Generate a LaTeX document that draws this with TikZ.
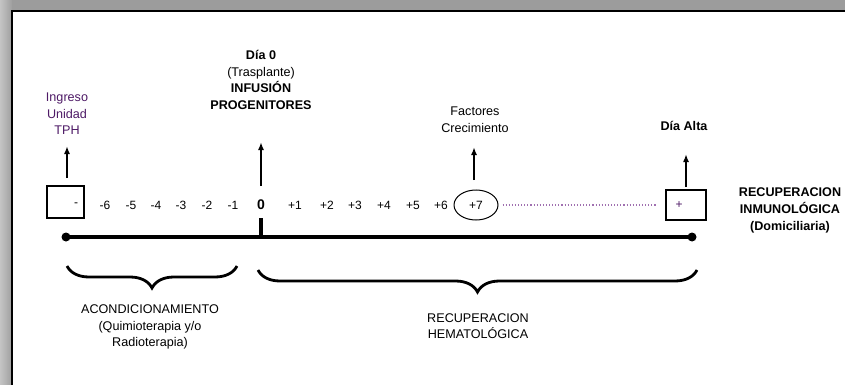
\documentclass[tikz,border=0pt]{standalone}
\usepackage{fontspec}
\setmainfont{Liberation Sans}
\usetikzlibrary{arrows.meta,decorations.pathreplacing,shapes.geometric}
\definecolor{shadowgray}{HTML}{9C9C9C}
\definecolor{shadowlight}{HTML}{C4C4C4}
\definecolor{tphpurple}{HTML}{4E1A66}
\definecolor{dotpurple}{HTML}{A070B0}

\begin{document}
\begin{tikzpicture}[x=1pt,y=-1pt,
  lbl/.style={font=\fontsize{12.6}{16.5}\selectfont, align=center, inner sep=0},
  num/.style={font=\fontsize{12}{13}\selectfont, inner sep=0},
  arr/.style={-{Latex[length=8pt,width=6pt]}, line width=1.8pt},
  dayline/.style={line width=3.4pt},
  enddot/.style={circle, fill=black, inner sep=0, minimum size=9pt},
  daybox/.style={draw, line width=1.1pt, inner sep=0},
  phase/.style={decorate, decoration={brace, mirror, amplitude=22pt}, line width=2.8pt}
]
\useasboundingbox (0,0) rectangle (845,385);

% window frame with drop shadow
\fill[left color=shadowlight, right color=shadowgray] (0,0) rectangle (13,385);
\fill[shadowgray] (12,0) rectangle (845,12);
\fill[white, draw=black, line width=2pt] (12,11) rectangle (870,410);

% timeline
\node[enddot] (tstart) at (66,237) {};
\node[enddot] (tend) at (692,237) {};
\draw[dayline] (tstart.center) -- (tend.center);
\coordinate (t0) at (261,237);
\coordinate (t0top) at (261,218);
\draw[dayline] (t0) -- (t0top);

% day boxes and numbers
\node[daybox, minimum width=37pt, minimum height=32pt] (boxL) at (65.5,202) {};
\node[num] (minus) at (76,205) {-};
\foreach \v/\x in {6/105, 5/131, 4/156, 3/181, 2/207, 1/233}
  \node[num] (m\v) at (\x,205) {-\v};
\node[num, font=\fontsize{14}{15}\selectfont\bfseries] (zero) at (261,205) {0};
\foreach \v/\x in {1/295, 2/327, 3/355, 4/384, 5/413, 6/441}
  \node[num] (p\v) at (\x,205) {+\v};
\node[num, draw, ellipse, line width=1pt, minimum width=44pt, minimum height=30pt] (p7) at (476,205) {+7};
\node[daybox, minimum width=40pt, minimum height=30pt] (boxR) at (686,205) {};
\node[num, text=tphpurple] (plus) at (679,205) {+};
\draw[dotpurple, dotted, line width=1.1pt, shorten <=4pt, shorten >=9pt] (p7.east) -- (boxR.west);

% event labels
\node[lbl, text=tphpurple] (ingreso) at (67,114) {Ingreso\\Unidad\\TPH};
\node[lbl] (dia0) at (261,80) {\textbf{Día 0}\\(Trasplante)\\\textbf{INFUSIÓN}\\\textbf{PROGENITORES}};
\node[lbl] (factores) at (475,119.5) {Factores\\Crecimiento};
\node[lbl, font=\fontsize{12.6}{16.5}\selectfont\bfseries] (alta) at (684,126) {Día Alta};
\node[lbl, font=\fontsize{12.6}{17}\selectfont\bfseries] (inmuno) at (790,210) {RECUPERACION\\INMUNOLÓGICA\\(Domiciliaria)};

% event arrows
\coordinate (aIngA) at (67,178);  \coordinate (aIngB) at (67,146);
\coordinate (aDiaA) at (261,186); \coordinate (aDiaB) at (261,142);
\coordinate (aFacA) at (474,180); \coordinate (aFacB) at (474,147);
\coordinate (aAltA) at (686,187); \coordinate (aAltB) at (686,154);
\draw[arr] (aIngA) -- (aIngB);
\draw[arr] (aDiaA) -- (aDiaB);
\draw[arr] (aFacA) -- (aFacB);
\draw[arr] (aAltA) -- (aAltB);

% phases
\coordinate (bLa) at (67,266);  \coordinate (bLb) at (237,266);
\coordinate (bRa) at (258,270); \coordinate (bRb) at (697,270);
\draw[phase] (bLa) -- (bLb);
\draw[phase] (bRa) -- (bRb);
\node[lbl] (acond) at (150,327) {ACONDICIONAMIENTO\\(Quimioterapia y/o\\Radioterapia)};
\node[lbl] (hemato) at (478,326) {RECUPERACION\\HEMATOLÓGICA};
\end{tikzpicture}
\end{document}
